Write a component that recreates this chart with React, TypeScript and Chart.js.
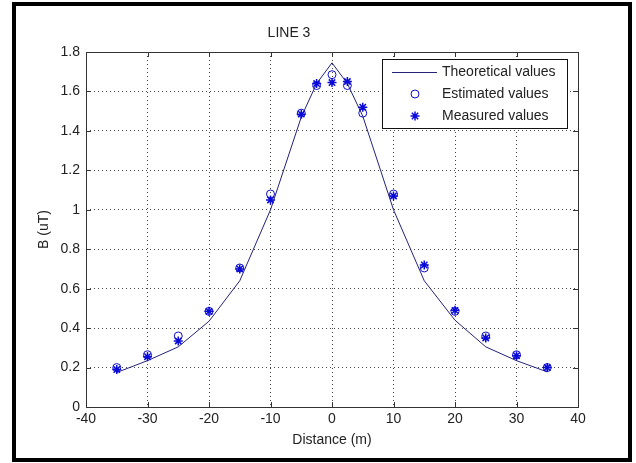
import React, { useEffect, useRef } from "react";
import { Chart, registerables } from "chart.js";
import { drawPoint } from "chart.js/helpers";

Chart.register(...registerables);

const distances = [-35, -30, -25, -20, -15, -10, -5, -2.5, 0, 2.5, 5, 10, 15, 20, 25, 30, 35];
const theoretical = [0.175, 0.235, 0.305, 0.435, 0.64, 1.0, 1.47, 1.64, 1.745, 1.64, 1.475, 1.0, 0.64, 0.44, 0.305, 0.235, 0.178];
const estimated = [0.2, 0.265, 0.36, 0.485, 0.705, 1.08, 1.49, 1.63, 1.685, 1.63, 1.49, 1.08, 0.705, 0.485, 0.36, 0.265, 0.2];
const measured = [0.19, 0.255, 0.335, 0.485, 0.7, 1.05, 1.485, 1.64, 1.645, 1.65, 1.52, 1.07, 0.72, 0.49, 0.35, 0.26, 0.2];

const seriesLabels = ["Theoretical values", "Estimated values", "Measured values"];
const chartTitle = "LINE 3";
const xTitle = "Distance (m)";
const yTitle = "B (uT)";

const FONT = "'Liberation Sans', Arial, Helvetica, sans-serif";
const TEXT = "#222";

const toPts = (ys: number[]) => distances.map((x, i) => ({ x, y: ys[i] }));

const framePlugin = {
  id: "frame",
  beforeDraw(chart: any) {
    const ctx = chart.ctx;
    ctx.save();
    ctx.fillStyle = "#fff";
    ctx.fillRect(0, 0, chart.width, chart.height);
    ctx.restore();
  },
  afterDraw(chart: any) {
    const ctx = chart.ctx;
    const { left, right, top, bottom } = chart.chartArea;
    const xs = chart.scales.x;
    const ys = chart.scales.y;
    ctx.save();
    // axes box
    ctx.strokeStyle = "#333";
    ctx.lineWidth = 1;
    ctx.strokeRect(Math.round(left) + 0.5, Math.round(top) + 0.5, Math.round(right - left), Math.round(bottom - top));
    // inner tick marks
    ctx.beginPath();
    xs.ticks.forEach((t: any) => {
      const px = Math.round(xs.getPixelForValue(t.value)) + 0.5;
      ctx.moveTo(px, bottom);
      ctx.lineTo(px, bottom - 5);
      ctx.moveTo(px, top);
      ctx.lineTo(px, top + 5);
    });
    ys.ticks.forEach((t: any) => {
      const py = Math.round(ys.getPixelForValue(t.value)) + 0.5;
      ctx.moveTo(left, py);
      ctx.lineTo(left + 5, py);
      ctx.moveTo(right, py);
      ctx.lineTo(right - 5, py);
    });
    ctx.stroke();

    // legend
    const lx = 382, ly = 59, lw = 185, lh = 69;
    ctx.fillStyle = "#fff";
    ctx.fillRect(lx, ly, lw, lh);
    ctx.strokeStyle = "#111";
    ctx.lineWidth = 1;
    ctx.strokeRect(lx + 0.5, ly + 0.5, lw, lh);
    const rows = [72, 94, 116];
    chart.data.datasets.forEach((ds: any, i: number) => {
      const cy = rows[i];
      if (i === 0) {
        ctx.strokeStyle = ds.borderColor;
        ctx.lineWidth = 1;
        ctx.beginPath();
        ctx.moveTo(392, cy + 0.5);
        ctx.lineTo(437, cy + 0.5);
        ctx.stroke();
      } else {
        ctx.strokeStyle = ds.pointBorderColor;
        ctx.fillStyle = "rgba(0,0,0,0)";
        ctx.lineWidth = ds.pointBorderWidth;
        drawPoint(ctx, { pointStyle: ds.pointStyle, radius: ds.pointRadius, borderWidth: ds.pointBorderWidth, rotation: 0 }, 415, cy);
      }
      ctx.fillStyle = TEXT;
      ctx.font = `14px ${FONT}`;
      ctx.textBaseline = "middle";
      ctx.textAlign = "left";
      ctx.fillText(ds.label, 442, cy);
    });

    // outer frame
    ctx.strokeStyle = "#000";
    ctx.lineWidth = 4;
    ctx.strokeRect(14, 4, 616, 456);
    ctx.restore();
  },
};

export default function App() {
  const ref = useRef<HTMLCanvasElement>(null);
  useEffect(() => {
    document.body.style.margin = "0";
    const canvas = ref.current!;
    const chart = new Chart(canvas, {
      type: "scatter",
      data: {
        datasets: [
          {
            label: seriesLabels[0],
            data: toPts(theoretical),
            showLine: true,
            borderColor: "#23237a",
            borderWidth: 1,
            pointRadius: 0,
            tension: 0,
            order: 3,
          },
          {
            label: seriesLabels[1],
            data: toPts(estimated),
            showLine: false,
            pointStyle: "circle",
            pointRadius: 4,
            pointBorderWidth: 1,
            pointBorderColor: "#1010c8",
            pointBackgroundColor: "rgba(0,0,0,0)",
            order: 2,
          },
          {
            label: seriesLabels[2],
            data: toPts(measured),
            showLine: false,
            pointStyle: "star",
            pointRadius: 4.5,
            pointBorderWidth: 1.5,
            pointBorderColor: "#0a0ad8",
            pointBackgroundColor: "#0a0ad8",
            order: 1,
          },
        ] as any,
      },
      options: {
        responsive: false,
        animation: false,
        devicePixelRatio: 1,
        layout: { padding: { left: 0, right: 58, top: 0, bottom: 0 } },
        plugins: {
          legend: { display: false },
          tooltip: { enabled: false },
          title: {
            display: true,
            text: chartTitle,
            color: TEXT,
            font: { family: FONT, size: 14, weight: "normal" },
            padding: { top: 24.6, bottom: 10.6 },
          },
        },
        scales: {
          x: {
            type: "linear",
            min: -40,
            max: 40,
            afterFit: (s: any) => { s.height = 56; },
            ticks: { stepSize: 10, color: TEXT, font: { family: FONT, size: 14 }, padding: 4, maxRotation: 0 },
            grid: { drawTicks: false, color: "#444", lineWidth: 1 },
            border: { display: false, dash: [1, 3] },
            title: {
              display: true,
              text: xTitle,
              color: TEXT,
              font: { family: FONT, size: 14 },
              padding: { top: 0, bottom: 14.6 },
            },
          },
          y: {
            type: "linear",
            min: 0,
            max: 1.8,
            afterFit: (s: any) => { s.width = 86; },
            ticks: { stepSize: 0.2, color: TEXT, font: { family: FONT, size: 14 }, padding: 6, callback: (v: any) => String(Math.round(Number(v) * 10) / 10) },
            grid: { drawTicks: false, color: "#444", lineWidth: 1 },
            border: { display: false, dash: [1, 3] },
            title: {
              display: true,
              text: yTitle,
              color: TEXT,
              font: { family: FONT, size: 14 },
              padding: { top: 35.6, bottom: 0 },
            },
          },
        },
      } as any,
      plugins: [framePlugin],
    });
    return () => chart.destroy();
  }, []);
  return (
    <div style={{ width: 636, height: 463 }}>
      <canvas ref={ref} width={636} height={463} style={{ display: "block" }} />
    </div>
  );
}
